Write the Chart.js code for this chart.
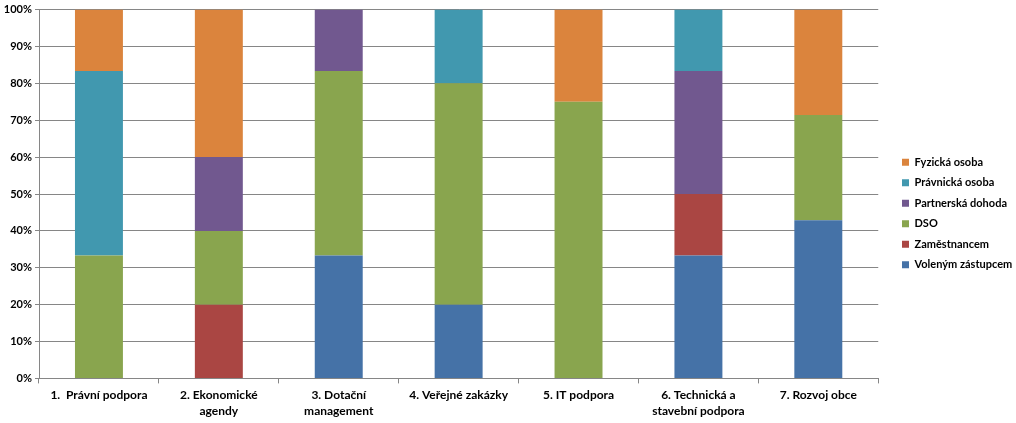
<!DOCTYPE html>
<html><head><meta charset="utf-8">
<script src="https://cdn.jsdelivr.net/npm/chart.js@4"></script>
<style>html,body{margin:0;padding:0;background:#fff;}#wrap{width:1016px;height:423px;}</style>
</head><body><div id="wrap"><canvas id="c" width="1016" height="423"></canvas></div>
<script>
const categories = [["1.  Právní podpora"],["2. Ekonomické","agendy"],["3. Dotační","management"],["4. Veřejné zakázky"],["5. IT podpora"],["6. Technická a","stavební podpora"],["7. Rozvoj obce"]];
const volenymZastupcem = [0, 0, 33.33, 20, 0, 33.33, 42.86];
const zamestnancem = [0, 20, 0, 0, 0, 16.67, 0];
const dso = [33.33, 20, 50, 60, 75, 0, 28.57];
const partnerskaDohoda = [0, 20, 16.67, 0, 0, 33.33, 0];
const pravnickaOsoba = [50, 0, 0, 20, 0, 16.67, 0];
const fyzickaOsoba = [16.67, 40, 0, 0, 25, 0, 28.57];
const yTicks = ["0%","10%","20%","30%","40%","50%","60%","70%","80%","90%","100%"];

const FONT = "Lato, 'Open Sans', sans-serif";
const LEGEND_PAD = 9.5;
const mk = (label, data, color) => ({label, data, backgroundColor: color, borderWidth: 0, categoryPercentage: 0.8, barPercentage: 0.5});
const shiftLegend = {
  id: 'shiftLegend',
  afterLayout(chart) {
    const l = chart.legend;
    if (!l) return;
    const dx = 902 - LEGEND_PAD - l.left;
    l.left += dx; l.right += dx;
  }
};
new Chart(document.getElementById('c'), {
  type: 'bar',
  data: {
    labels: categories,
    datasets: [
      mk('Voleným zástupcem', volenymZastupcem, '#4572A7'),
      mk('Zaměstnancem', zamestnancem, '#AA4643'),
      mk('DSO', dso, '#89A54E'),
      mk('Partnerská dohoda', partnerskaDohoda, '#71588F'),
      mk('Právnická osoba', pravnickaOsoba, '#4198AF'),
      mk('Fyzická osoba', fyzickaOsoba, '#DB843D')
    ]
  },
  plugins: [shiftLegend],
  options: {
    responsive: false,
    animation: false,
    layout: {padding: {top: 4, right: 8, left: 0, bottom: 0}},
    plugins: {
      tooltip: {enabled: false},
      legend: {
        position: 'right',
        reverse: true,
        labels: {boxWidth: 7, boxHeight: 7, padding: LEGEND_PAD, color: '#000', font: {family: FONT, size: 11, weight: 'bold'}}
      }
    },
    scales: {
      x: {
        stacked: true,
        grid: {drawOnChartArea: false, color: '#868686', tickLength: 5, offset: true},
        border: {color: '#868686'},
        ticks: {color: '#000', maxRotation: 0, autoSkip: false, padding: 3, font: {family: FONT, size: 12, weight: 'bold', lineHeight: 1.4}}
      },
      y: {
        stacked: true,
        min: 0, max: 100,
        afterFit: s => { s.width = 39; },
        grid: {color: '#868686', tickLength: 4},
        border: {color: '#868686'},
        ticks: {stepSize: 10, color: '#000', padding: 3, font: {family: FONT, size: 11, weight: 'bold'},
          callback: (v, i) => yTicks[i]}
      }
    }
  }
});
</script></body></html>
